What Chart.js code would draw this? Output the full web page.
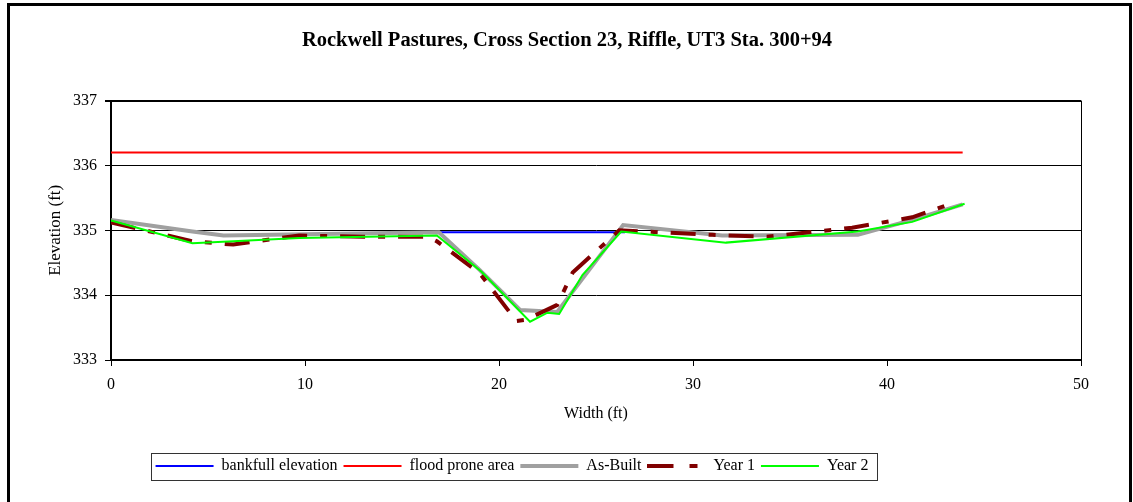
<!DOCTYPE html>
<html>
<head>
<meta charset="utf-8">
<script src="https://cdn.jsdelivr.net/npm/chart.js@4.4.1/dist/chart.umd.min.js"></script>
<style>
  html, body { margin: 0; padding: 0; background: #fff; }
  #c { display: block; }
</style>
</head>
<body>
<canvas id="c" width="1133" height="502"></canvas>
<script>
// ---- data ----
const chartTitle = "Rockwell Pastures, Cross Section 23, Riffle, UT3 Sta. 300+94";
const xTitle = "Width (ft)";
const yTitle = "Elevation (ft)";
const seriesNames = ["bankfull elevation", "flood prone area", "As-Built", "Year 1", "Year 2"];

const bankfullX = [16.85, 26.5];
const bankfullY = [334.97, 334.97];

const floodX = [0, 43.9];
const floodY = [336.2, 336.2];

const asBuiltX = [0, 4.2, 5.8, 10, 16.9, 19.0, 21.1, 23.0, 26.4, 31.5, 38.5, 41.3, 43.9];
const asBuiltY = [335.16, 334.98, 334.92, 334.94, 334.97, 334.39, 333.77, 333.74, 335.08, 334.92, 334.93, 335.16, 335.4];

const year1X = [0, 4.2, 6.3, 9.7, 13, 16.3, 16.8, 19.0, 20.9, 21.4, 23.0, 23.8, 26.2, 31, 33.8, 38.2, 41.3, 43.4];
const year1Y = [335.12, 334.83, 334.78, 334.92, 334.9, 334.9, 334.83, 334.34, 333.6, 333.62, 333.85, 334.35, 335.0, 334.93, 334.9, 335.04, 335.2, 335.42];

const year2X = [0, 4.2, 9.7, 16.8, 19.1, 21.6, 22.5, 23.1, 24.3, 26.3, 31.7, 38.5, 41.3, 44.0];
const year2Y = [335.15, 334.8, 334.88, 334.92, 334.36, 333.59, 333.73, 333.71, 334.31, 334.98, 334.81, 334.98, 335.13, 335.41];

const xTicks = [0, 10, 20, 30, 40, 50];
const yTicks = [333, 334, 335, 336, 337];

// ---- build ----
const pts = (xs, ys) => xs.map((x, i) => ({ x: x, y: ys[i] }));
const FONT = "'Liberation Serif', 'Times New Roman', serif";
const LEG_PAD = 6;
const LEG_FONT = 16;

// legend sample for the dashed series (long dash, gap, short dash)
const dashSample = document.createElement('canvas');
dashSample.width = 58; dashSample.height = 4;
(function () {
  const g = dashSample.getContext('2d');
  g.fillStyle = '#800000';
  g.fillRect(0, 0, 26, 4);
  g.fillRect(42, 0, 8, 4);
})();

const framePlugin = {
  id: 'frame',
  beforeDraw(chart) {
    const ctx = chart.ctx;
    ctx.save();
    ctx.fillStyle = '#fff';
    ctx.fillRect(0, 0, chart.width, chart.height);
    ctx.restore();
  },
  afterUpdate(chart) {
    const lg = chart.legend;
    if (lg) {
      const shift = 512 - (lg.left + lg.right) / 2;
      lg.left += shift; lg.right += shift;
    }
    const tb = chart.titleBlock;
    if (tb) {
      const s2 = 567 - (tb.left + tb.right) / 2;
      tb.left += s2; tb.right += s2;
    }
  },
  afterDraw(chart) {
    const ctx = chart.ctx;
    const lg = chart.legend;
    ctx.save();
    // legend border
    if (lg && lg.lineWidths) {
      const start = (lg.left + LEG_PAD + lg.right - lg.lineWidths[0]) / 2;
      const l = start - 5;
      const r = start + lg.lineWidths[0] - LEG_PAD + 8;
      const cy = lg.top + LEG_PAD + LEG_FONT / 2;
      ctx.strokeStyle = '#333';
      ctx.lineWidth = 1;
      ctx.strokeRect(Math.round(l) + 0.5, Math.round(cy - 13.5) + 0.5, Math.round(r - l), 27);
    }
    // plot-area right border
    const a = chart.chartArea;
    ctx.strokeStyle = '#000';
    ctx.lineWidth = 1;
    ctx.beginPath();
    ctx.moveTo(Math.round(a.right) + 0.5, a.top);
    ctx.lineTo(Math.round(a.right) + 0.5, a.bottom);
    ctx.stroke();
    // outer frame
    ctx.lineWidth = 3;
    ctx.strokeRect(8.5, 4.5, 1122, 520);
    ctx.restore();
  }
};

const ds = (i, xs, ys, color, width, extra) => Object.assign({
  label: seriesNames[i],
  data: pts(xs, ys),
  borderColor: color,
  backgroundColor: color,
  borderWidth: width,
  pointRadius: 0,
  pointHoverRadius: 0,
  tension: 0,
  fill: false,
  showLine: true
}, extra || {});

new Chart(document.getElementById('c'), {
  type: 'scatter',
  data: {
    datasets: [
      ds(0, bankfullX, bankfullY, '#0000FF', 2, { order: 5 }),
      ds(1, floodX, floodY, '#FF0000', 2, { order: 4 }),
      ds(2, asBuiltX, asBuiltY, '#A0A0A0', 4, { order: 3 }),
      ds(3, year1X, year1Y, '#800000', 4, { order: 2, borderDash: [25, 13, 7, 13] }),
      ds(4, year2X, year2Y, '#00FF00', 2, { order: 1 })
    ]
  },
  options: {
    responsive: false,
    animation: false,
    devicePixelRatio: 1,
    layout: { padding: { left: 0, right: 52, top: 0, bottom: 18 } },
    plugins: {
      tooltip: { enabled: false },
      title: {
        display: true,
        text: chartTitle,
        color: '#000',
        font: { family: FONT, size: 20.5, weight: 'bold' },
        padding: { top: 28, bottom: 48 }
      },
      legend: {
        display: true,
        position: 'bottom',
        labels: {
          color: '#000',
          font: { family: FONT, size: LEG_FONT },
          usePointStyle: true,
          pointStyle: 'line',
          pointStyleWidth: 58,
          padding: LEG_PAD,
          sort: (a, b) => a.datasetIndex - b.datasetIndex,
          generateLabels: (chart) => {
            const items = Chart.defaults.plugins.legend.labels.generateLabels(chart);
            items.forEach((it) => {
              if (it.datasetIndex === 3) { it.pointStyle = dashSample; it.lineDash = []; }
            });
            return items;
          }
        }
      }
    },
    scales: {
      x: {
        type: 'linear',
        min: 0, max: 50,
        afterFit: (s) => { s.height = 92; },
        afterBuildTicks: (s) => { s.ticks = xTicks.map(v => ({ value: v })); },
        ticks: { color: '#000', font: { family: FONT, size: 16 }, padding: 9, maxRotation: 0 },
        grid: {
          drawOnChartArea: false,
          drawTicks: true,
          tickLength: 6,
          tickColor: '#000',
          color: '#000'
        },
        border: { display: true, color: '#000', width: 2 },
        title: {
          display: true, text: xTitle, color: '#000',
          font: { family: FONT, size: 16 },
          padding: { top: 0, bottom: 29 }
        }
      },
      y: {
        type: 'linear',
        min: 333, max: 337,
        afterFit: (s) => { s.width = 111; },
        afterBuildTicks: (s) => { s.ticks = yTicks.map(v => ({ value: v })); },
        ticks: { color: '#000', font: { family: FONT, size: 16 }, padding: 8 },
        grid: {
          drawOnChartArea: true,
          drawTicks: true,
          tickLength: 6,
          tickColor: '#000',
          color: '#000',
          lineWidth: (c) => (c.tick && c.tick.value === 337 ? 2 : 1)
        },
        border: { display: true, color: '#000', width: 2 },
        title: {
          display: true, text: yTitle, color: '#000',
          font: { family: FONT, size: 17 },
          padding: { top: 45, bottom: 0 }
        }
      }
    }
  },
  plugins: [framePlugin]
});
</script>
</body>
</html>
